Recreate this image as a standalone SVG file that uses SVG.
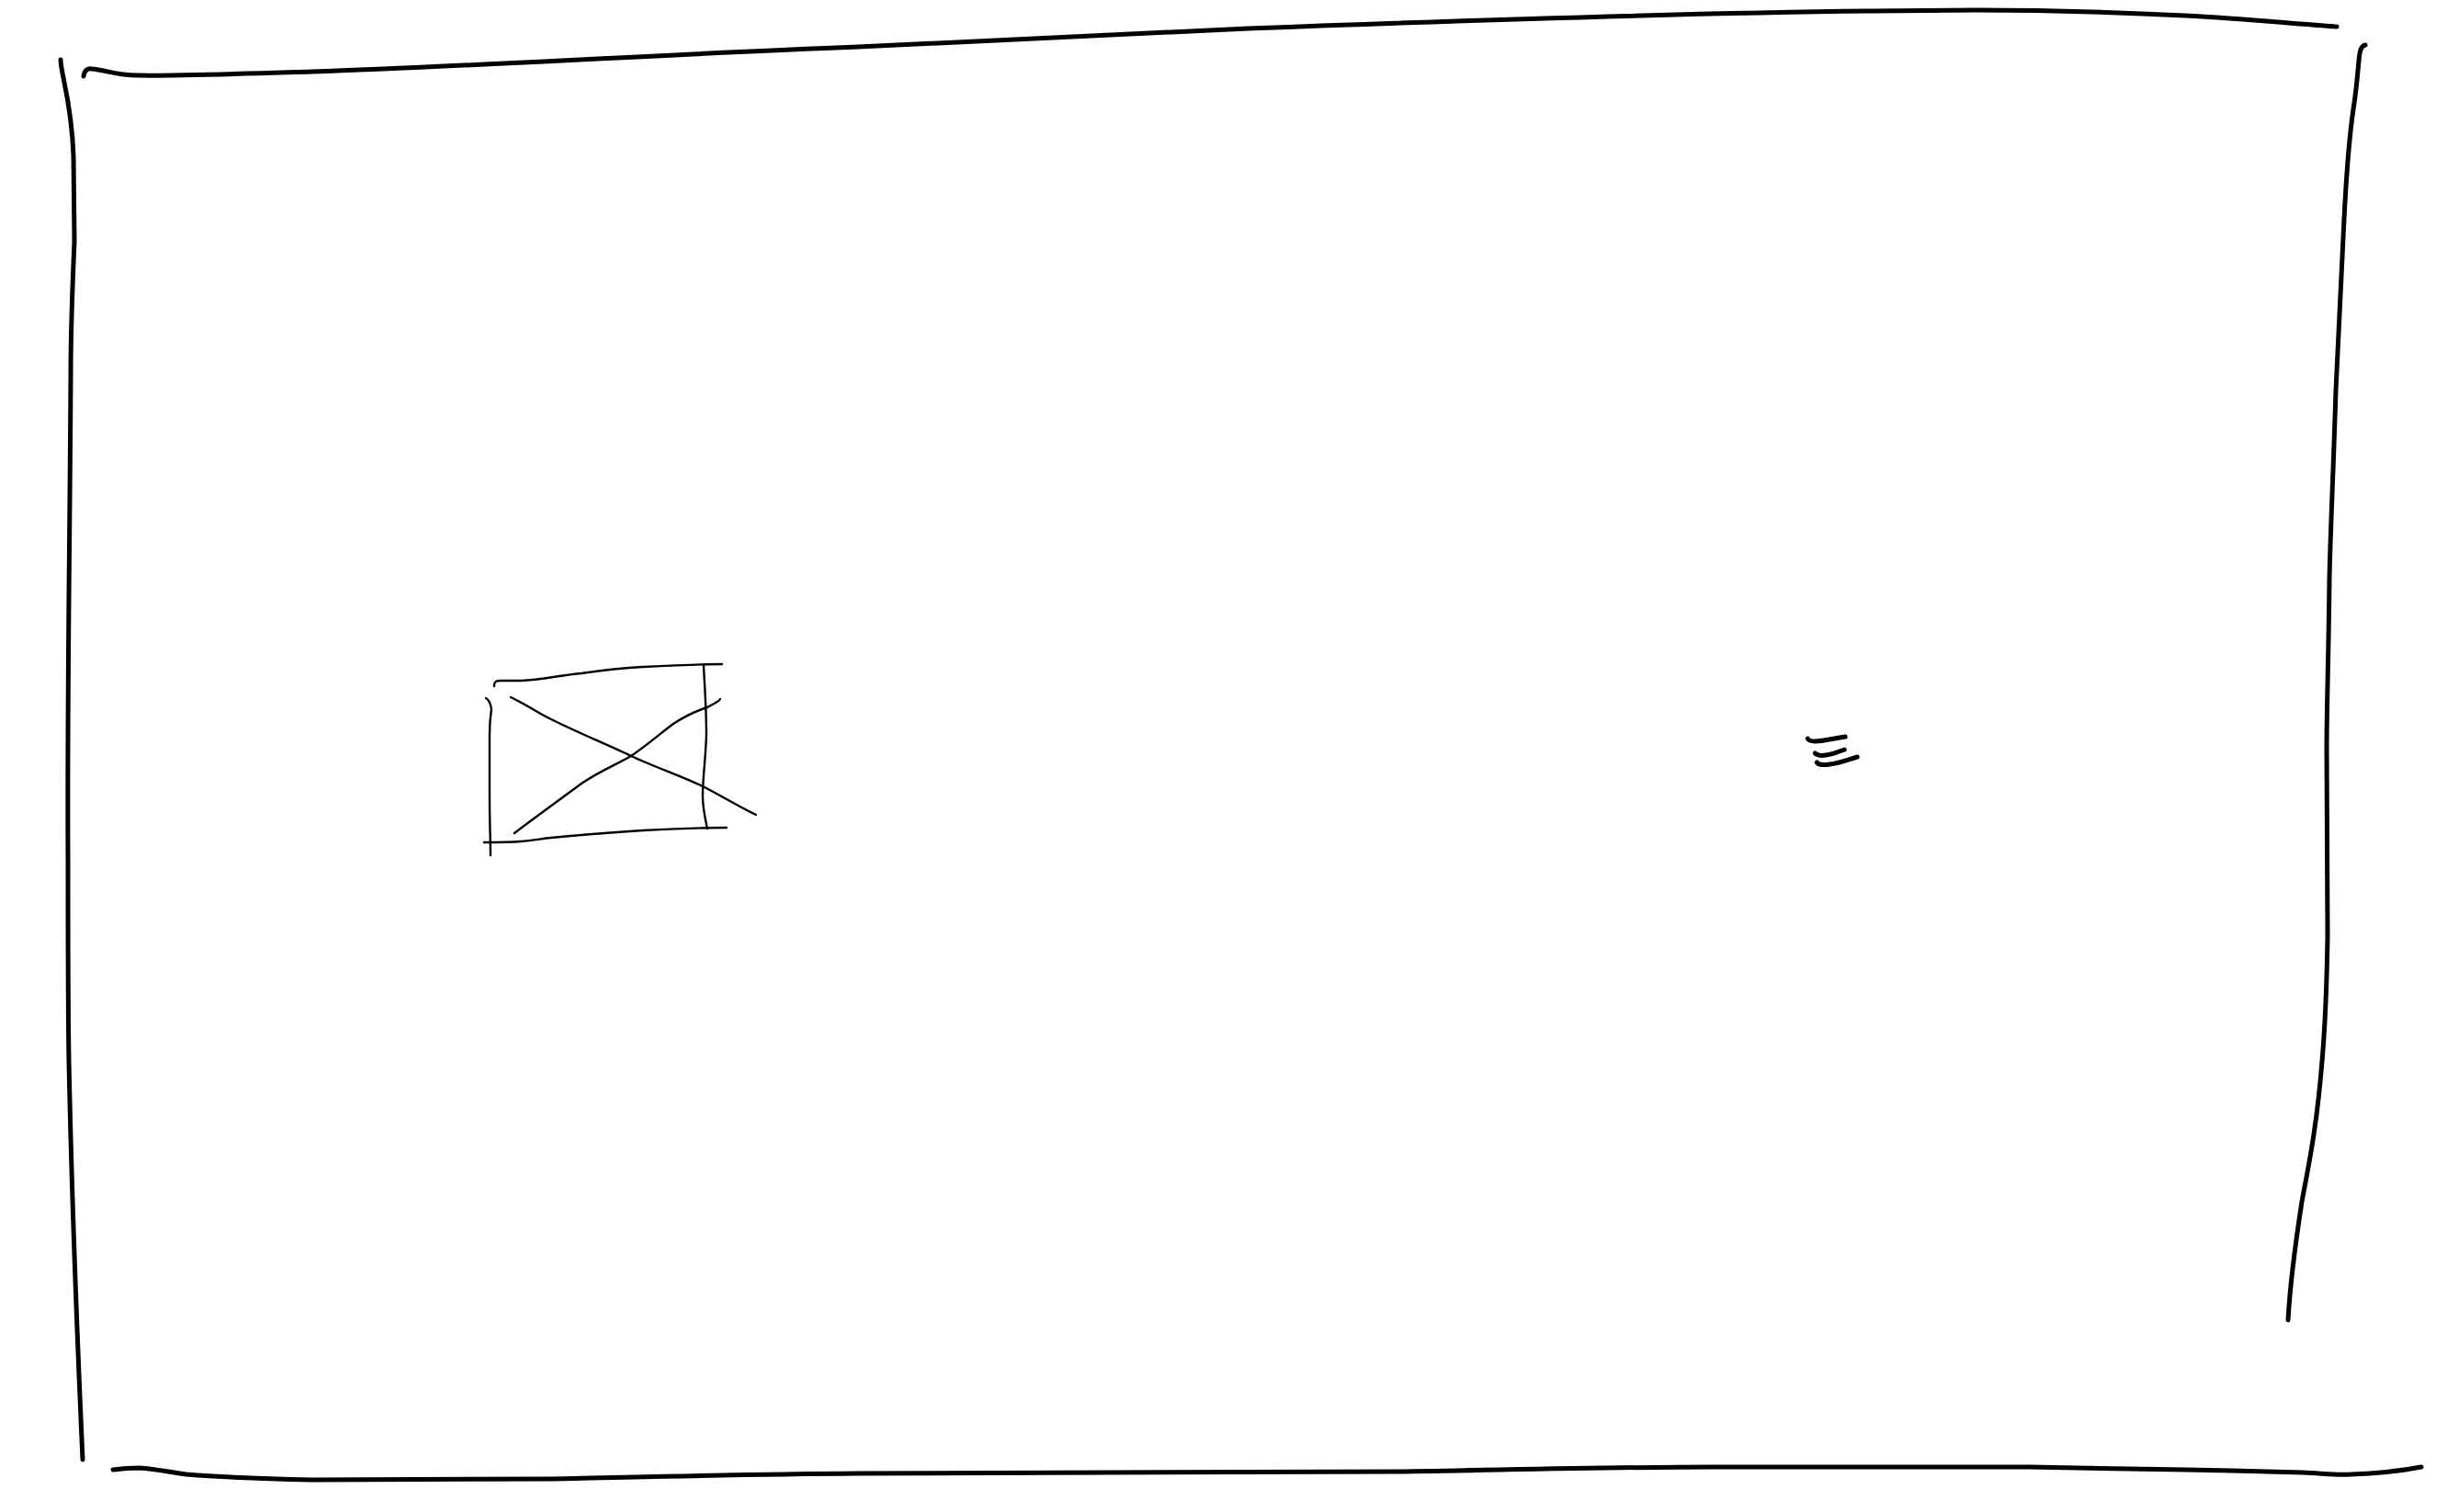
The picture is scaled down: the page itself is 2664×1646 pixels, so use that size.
<svg xmlns="http://www.w3.org/2000/svg" width="2664" height="1646" viewBox="0 0 2664 1646">
<style>
.s{fill:none;stroke:#000;stroke-linecap:round;stroke-linejoin:round}
.frame{stroke-width:5}
.thin{stroke-width:2.4}
.icon{stroke-width:5}
</style>
<rect width="2664" height="1646" fill="#fff"/>
<g id="frame">
<path class="s frame" d="M66,65 C66,80 78,110 80,170 L81,263 C78,330 77,360 77,408 C76,600 73,760 74,935 C74,1050 74,1100 75,1155 C78,1300 86,1500 90,1589"/>
<path class="s frame" d="M91,83 C92,76 96,74 100,75 C115,76 125,82 150,82 C180,83 240,81 340,78 C500,73 700,60 934,51 C1100,43 1250,36 1359,31 C1600,22 1850,14 2039,12 L2150,11 C2250,11 2320,14 2379,17 C2440,20 2500,26 2544,29"/>
<path class="s frame" d="M2575,49 C2570,50 2569,56 2568,66 C2566,90 2565,100 2562,119 C2556,160 2554,200 2552,238 C2548,320 2545,380 2543,425 C2540,520 2537,580 2536,629 C2535,720 2533,770 2533,816 L2534,1019 C2533,1080 2532,1110 2528,1155 C2522,1230 2513,1270 2506,1308 C2498,1360 2493,1400 2491,1437"/>
<path class="s frame" d="M123,1600 C130,1599 140,1598 152,1598 C170,1599 185,1603 203,1605 C250,1609 290,1610 340,1611 L600,1610 C700,1608 800,1605 934,1604 L1529,1602 C1650,1600 1750,1597 1869,1597 L2209,1597 C2300,1598 2360,1600 2430,1601 L2507,1603 C2530,1604 2540,1606 2560,1605 C2590,1604 2615,1601 2636,1597"/>
</g>
<g id="image-placeholder">
<path class="s thin" d="M538,747 C538,742 540,741 545,741 L567,741 C590,740 610,735 633,733 C660,729 680,727 700,726 C740,724 765,723 786,723"/>
<path class="s thin" d="M766,724 C767,745 769,770 769,800 C768,830 765,845 765,867 C765,880 768,892 770,902"/>
<path class="s thin" d="M527,917 C540,917 555,917 567,916 C580,915 590,913 600,912 C640,908 670,906 700,904 C740,902 770,901 791,901"/>
<path class="s thin" d="M529,760 C531,761 534,765 535,772 C533,785 533,795 533,800 L533,867 C533,895 534,915 534,931"/>
<path class="s thin" d="M556,759 C575,768 585,776 600,783 C630,798 660,810 687,823 C715,836 745,846 767,857 C790,869 808,880 823,887"/>
<path class="s thin" d="M560,907 C585,888 610,870 633,853 C655,838 670,833 687,823 C705,811 718,799 733,788 C745,780 758,774 770,770 C777,766 784,763 784,761"/>
</g>
<g id="menu-icon">
<path class="s icon" d="M1968,804 C1969,806 1971,807 1976,807 C1985,807 1995,804 2009,802"/>
<path class="s icon" d="M1976,820 C1978,822 1982,823 1988,822 C1996,821 2002,818 2008,816"/>
<path class="s icon" d="M1978,830 C1980,833 1985,833 1992,832 C2002,831 2012,827 2022,824"/>
</g>
<g id="connectors"/>
</svg>
